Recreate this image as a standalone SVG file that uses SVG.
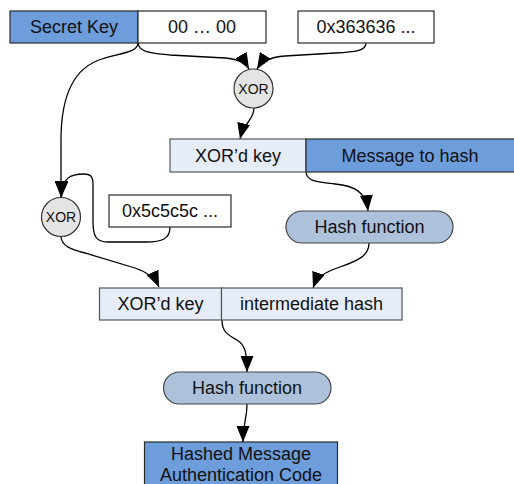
<svg xmlns="http://www.w3.org/2000/svg" width="514" height="484" viewBox="0 0 514 484">
  <defs>
    <marker id="arrow" markerUnits="userSpaceOnUse" markerWidth="16" markerHeight="13" refX="16" refY="6.5" orient="auto">
      <path d="M0,0 L16,6.5 L0,13 z" fill="#000"/>
    </marker>
    <style>
      text { font-family: "Liberation Sans", Arial, sans-serif; font-size: 18px; fill: #111; text-anchor: middle; }
      .small { font-size: 14px; }
      .blue { fill: #6d9ddb; stroke: #2a2a2a; stroke-width: 1.2; }
      .pale { fill: #e6edf8; stroke: #555; stroke-width: 1.2; }
      .white { fill: #fff; stroke: #2a2a2a; stroke-width: 1.2; }
      .hash { fill: #adc1db; stroke: #444; stroke-width: 1.2; }
      .xor { fill: #e4e4e4; stroke: #333; stroke-width: 1.2; }
      .edge { fill: none; stroke: #000; stroke-width: 1.3; marker-end: url(#arrow); }
    </style>
  </defs>

  <!-- connectors -->
  <g id="connectors">
    <path class="edge" d="M138,43 C139,52 150,53 170,55 L225,58 C238,59 245,62 249,69"/>
    <path class="edge" d="M366,43 C366,51 355,52 335,53 L285,56 C270,57 262,61 257,69"/>
    <path class="edge" d="M254,108 C254,120 244,122 240,139"/>
    <path class="edge" d="M138,43 C138,52 122,53 102,59 C72,68 61,100 61,140 L61,197"/>
    <path class="edge" d="M170,227 C170,239 162,242 146,242 L108,242 C96,242 93,236 93,222 L93,184 C93,176 90,174 84,174 C70,174 62,178 61.5,197"/>
    <path class="edge" d="M61,237 C62,246 70,249 85,253 L135,268 C147,272 155,278 159,287"/>
    <path class="edge" d="M306,172 C307,182 318,182 335,184 C355,186 366,192 368,211"/>
    <path class="edge" d="M369,243 C369,255 360,260 340,267 C325,272 317,277 313,288"/>
    <path class="edge" d="M222,320 C222,332 228,335 237,340 C245,345 247,352 247,372"/>
    <path class="edge" d="M247,404 C247,420 243,422 243,442"/>
  </g>

  <!-- top key row -->
  <g id="secret-key">
    <rect class="blue" x="10" y="11" width="128" height="32"/>
    <text x="74" y="33">Secret Key</text>
  </g>
  <g id="zero-pad">
    <rect class="white" x="138" y="11" width="128" height="32"/>
    <text x="202" y="33">00 … 00</text>
  </g>
  <g id="ipad">
    <rect class="white" x="298" y="11" width="136" height="32"/>
    <text x="366" y="33">0x363636 ...</text>
  </g>

  <!-- inner XOR -->
  <g id="xor-inner">
    <circle class="xor" cx="253.5" cy="88.5" r="19.5"/>
    <text class="small" x="253.5" y="93.5">XOR</text>
  </g>

  <!-- inner block -->
  <g id="inner-key">
    <rect class="pale" x="170" y="139" width="136" height="33"/>
    <text x="238" y="161.5">XOR’d key</text>
  </g>
  <g id="message">
    <rect class="blue" x="306" y="139" width="214" height="33"/>
    <text x="410" y="161.5">Message to hash</text>
  </g>

  <!-- outer XOR and opad -->
  <g id="xor-outer">
    <circle class="xor" cx="61" cy="217" r="19.5"/>
    <text class="small" x="61" y="222">XOR</text>
  </g>
  <g id="opad">
    <rect class="white" x="109" y="195" width="122" height="32"/>
    <text x="170" y="217">0x5c5c5c ...</text>
  </g>

  <!-- inner hash -->
  <g id="hash-inner">
    <rect class="hash" x="286" y="211" width="167" height="32" rx="16" ry="16"/>
    <text x="369.5" y="232.5">Hash function</text>
  </g>

  <!-- outer block -->
  <g id="outer-key">
    <rect class="pale" x="99.5" y="288" width="122" height="32"/>
    <text x="160.5" y="310">XOR’d key</text>
  </g>
  <g id="intermediate">
    <rect class="pale" x="221.5" y="288" width="180.5" height="32"/>
    <text x="311.5" y="310">intermediate hash</text>
  </g>

  <!-- outer hash -->
  <g id="hash-outer">
    <rect class="hash" x="163.5" y="372" width="167.5" height="32" rx="16" ry="16"/>
    <text x="247" y="393.5">Hash function</text>
  </g>

  <!-- result -->
  <g id="hmac">
    <rect class="blue" x="144.5" y="442" width="193" height="50"/>
    <text x="241" y="459.5">Hashed Message</text>
    <text x="241" y="481">Authentication Code</text>
  </g>
</svg>
